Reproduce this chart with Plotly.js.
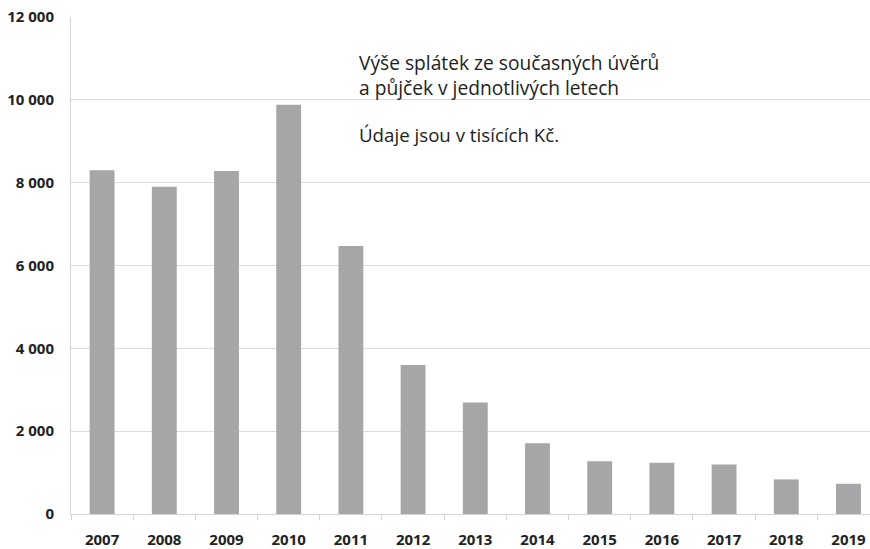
<!DOCTYPE html>
<html>
<head>
<meta charset="utf-8">
<script src="https://cdn.plot.ly/plotly-3.0.1.min.js"></script>
<style>html,body{margin:0;padding:0;background:#fff;overflow:hidden}</style>
</head>
<body>
<div id="chart" style="width:870px;height:549px"></div>
<script>
const years = ["2007","2008","2009","2010","2011","2012","2013","2014","2015","2016","2017","2018","2019"];
const values = [8300, 7900, 8280, 9880, 6470, 3600, 2690, 1710, 1275, 1235, 1195, 835, 730];
const yTicks = [0, 2000, 4000, 6000, 8000, 10000, 12000];
const titleText = "Výše splátek ze současných úvěrů<br>a půjček v jednotlivých letech";
const noteText = "Údaje jsou v tisících Kč.";

const trace = {
  type: "bar",
  x: years,
  y: values,
  width: 0.4,
  marker: {color: "#a6a6a9"},
  hoverinfo: "x+y"
};

const layout = {
  width: 870,
  height: 549,
  margin: {l: 71, r: 0, t: 17, b: 35},
  paper_bgcolor: "#ffffff",
  plot_bgcolor: "#ffffff",
  separators: ", ",
  showlegend: false,
  font: {family: "Open Sans, sans-serif", color: "#222222"},
  xaxis: {
    type: "category",
    range: [-0.5, 12.346],
    showline: true,
    linecolor: "#d4d4d4",
    linewidth: 1,
    ticks: "outside",
    tickson: "boundaries",
    ticklen: 5,
    tickcolor: "#d4d4d4",
    showgrid: false,
    tickfont: {family: "Open Sans, sans-serif", size: 15, weight: "bold", color: "#222222"},
    ticklabelstandoff: 12
  },
  yaxis: {
    range: [0, 12000],
    tickvals: yTicks,
    tickformat: ",d",
    showline: true,
    linecolor: "#d4d4d4",
    linewidth: 1,
    gridcolor: "#dcdcdc",
    gridwidth: 1,
    zeroline: false,
    ticks: "",
    tickfont: {family: "Open Sans, sans-serif", size: 15, weight: "bold", color: "#222222"},
    ticklabelstandoff: 13
  },
  annotations: [
    {
      text: titleText,
      xref: "paper", yref: "paper",
      x: 0.358, y: 0.883,
      xanchor: "left", yanchor: "middle",
      align: "left",
      showarrow: false,
      font: {family: "Open Sans, sans-serif", size: 19.2, color: "#222222"}
    },
    {
      text: noteText,
      xref: "paper", yref: "paper",
      x: 0.358, y: 0.763,
      xanchor: "left", yanchor: "middle",
      align: "left",
      showarrow: false,
      font: {family: "Open Sans, sans-serif", size: 18.7, color: "#222222"}
    }
  ]
};

Plotly.newPlot("chart", [trace], layout, {displayModeBar: false, staticPlot: true});
</script>
</body>
</html>
